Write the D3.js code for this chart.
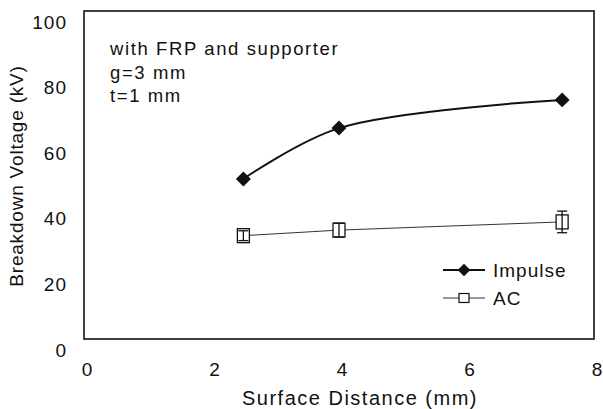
<!DOCTYPE html>
<html>
<head>
<meta charset="utf-8">
<script src="https://cdn.jsdelivr.net/npm/d3@7"></script>
<style>
  body { margin: 0; background: #fff; }
  svg text { font-family: "Liberation Sans", Arial, Helvetica, sans-serif; fill: #111; }
</style>
</head>
<body>
<div id="chart"></div>
<script>
// data
const distances = [2.5, 4, 7.5];
const impulseVoltage = [48.8, 64.3, 72.9];
const acVoltage = [31.5, 33.2, 35.7];
const acError = [1.5, 2.1, 3.3];
const xTicks = [0, 2, 4, 6, 8];
const yTicks = [0, 20, 40, 60, 80, 100];
const noteLines = ['with FRP and supporter', 'g=3 mm', 't=1 mm'];
const seriesNames = ['Impulse', 'AC'];

const config = {
  width: 603,
  height: 409,
  margin: { top: 11, right: 9, bottom: 70, left: 84 }
};

const innerW = config.width - config.margin.left - config.margin.right;
const innerH = config.height - config.margin.top - config.margin.bottom;

const svg = d3.select('#chart').append('svg')
  .attr('width', config.width)
  .attr('height', config.height);

const chart = svg.append('g')
  .attr('transform', `translate(${config.margin.left},${config.margin.top})`);

const x = d3.scaleLinear().domain([0, 8]).range([0, innerW]);
const y = d3.scaleLinear().domain([0, 100]).range([innerH, 0]);

// axes (labels only, frame drawn separately)
const xAxis = chart.append('g')
  .attr('transform', `translate(0,${innerH})`)
  .call(d3.axisBottom(x).tickValues(xTicks).tickSize(0).tickPadding(24));
xAxis.select('.domain').remove();
xAxis.selectAll('text')
  .attr('dx', 3)
  .style('font-size', '19px')
  .style('letter-spacing', '1px');

const yAxis = chart.append('g')
  .call(d3.axisLeft(y).tickValues(yTicks).tickSize(0).tickPadding(17));
yAxis.select('.domain').remove();
yAxis.selectAll('text')
  .attr('dy', '0.9em')
  .style('font-size', '19px')
  .style('letter-spacing', '1px');

// frame
chart.append('rect')
  .attr('x', 0).attr('y', 0)
  .attr('width', innerW).attr('height', innerH)
  .attr('fill', 'none')
  .attr('stroke', '#111')
  .attr('stroke-width', 1.6);

// axis titles
svg.append('text')
  .attr('x', 360).attr('y', 405)
  .attr('text-anchor', 'middle')
  .style('font-size', '20px')
  .style('letter-spacing', '1.5px')
  .text('Surface Distance (mm)');

svg.append('text')
  .attr('transform', 'translate(23,176) rotate(-90)')
  .attr('text-anchor', 'middle')
  .style('font-size', '19px')
  .style('letter-spacing', '0.8px')
  .text('Breakdown Voltage (kV)');

// note
chart.append('g').selectAll('text')
  .data(noteLines)
  .join('text')
  .attr('x', 26)
  .attr('y', (d, i) => 44 + i * 23.5)
  .style('font-size', '18.5px')
  .style('letter-spacing', '1.6px')
  .text(d => d);

const impulseData = distances.map((d, i) => ({ x: d, y: impulseVoltage[i] }));
const acData = distances.map((d, i) => ({ x: d, y: acVoltage[i], e: acError[i] }));

// AC series
chart.append('path')
  .datum(acData)
  .attr('fill', 'none')
  .attr('stroke', '#333')
  .attr('stroke-width', 1)
  .attr('d', d3.line().x(d => x(d.x)).y(d => y(d.y)));

const acG = chart.append('g').selectAll('g')
  .data(acData)
  .join('g')
  .attr('transform', d => `translate(${x(d.x)},${y(d.y)})`);

acG.append('rect')
  .attr('x', -6).attr('y', -7)
  .attr('width', 12).attr('height', 14)
  .attr('fill', '#fff')
  .attr('stroke', '#111')
  .attr('stroke-width', 1.3);

acG.append('line')
  .attr('x1', 0).attr('x2', 0)
  .attr('y1', d => y(d.y + d.e) - y(d.y))
  .attr('y2', d => y(d.y - d.e) - y(d.y))
  .attr('stroke', '#111').attr('stroke-width', 1.3);
acG.append('line')
  .attr('x1', -5).attr('x2', 5)
  .attr('y1', d => y(d.y + d.e) - y(d.y))
  .attr('y2', d => y(d.y + d.e) - y(d.y))
  .attr('stroke', '#111').attr('stroke-width', 1.3);
acG.append('line')
  .attr('x1', -5).attr('x2', 5)
  .attr('y1', d => y(d.y - d.e) - y(d.y))
  .attr('y2', d => y(d.y - d.e) - y(d.y))
  .attr('stroke', '#111').attr('stroke-width', 1.3);

// Impulse series
chart.append('path')
  .datum(impulseData)
  .attr('fill', 'none')
  .attr('stroke', '#111')
  .attr('stroke-width', 2)
  .attr('d', d3.line().x(d => x(d.x)).y(d => y(d.y)).curve(d3.curveCatmullRom.alpha(0.5)));

const diamond = d3.symbol().type(d3.symbolSquare).size(112);
chart.append('g').selectAll('path')
  .data(impulseData)
  .join('path')
  .attr('d', diamond)
  .attr('transform', d => `translate(${x(d.x)},${y(d.y)}) rotate(45)`)
  .attr('fill', '#111');

// legend
const legend = svg.append('g').attr('transform', 'translate(443,270)');
legend.append('line')
  .attr('x1', 0).attr('x2', 42).attr('y1', 0).attr('y2', 0)
  .attr('stroke', '#111').attr('stroke-width', 2);
legend.append('path')
  .attr('d', d3.symbol().type(d3.symbolSquare).size(80))
  .attr('transform', 'translate(21,0) rotate(45)')
  .attr('fill', '#111');
legend.append('line')
  .attr('x1', 0).attr('x2', 42).attr('y1', 28).attr('y2', 28)
  .attr('stroke', '#333').attr('stroke-width', 1);
legend.append('rect')
  .attr('x', 16).attr('y', 23.5)
  .attr('width', 10).attr('height', 9)
  .attr('fill', '#fff')
  .attr('stroke', '#111')
  .attr('stroke-width', 1.2);
legend.selectAll('text')
  .data(seriesNames)
  .join('text')
  .attr('x', 50)
  .attr('y', (d, i) => i * 28)
  .attr('dy', '0.36em')
  .style('font-size', '19px')
  .style('letter-spacing', '1px')
  .text(d => d);
</script>
</body>
</html>
